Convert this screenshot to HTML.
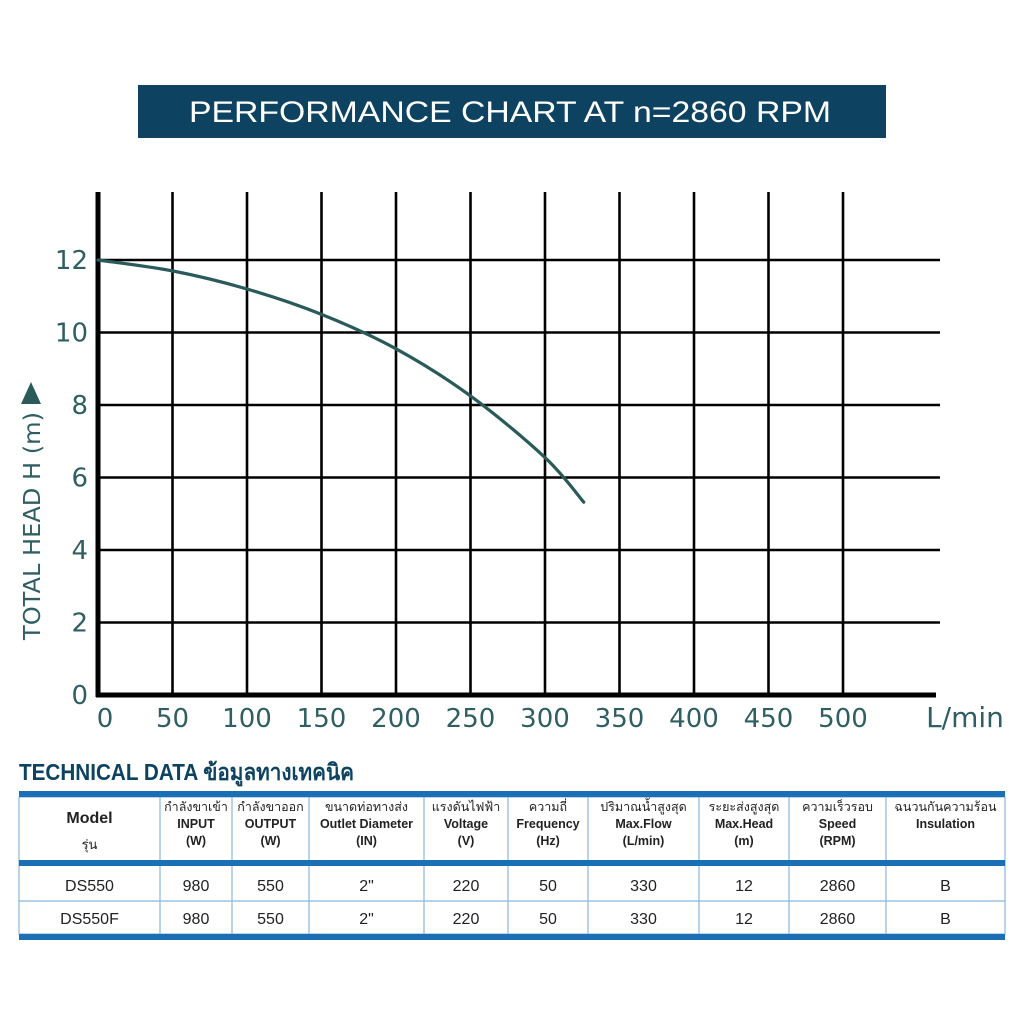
<!DOCTYPE html>
<html><head><meta charset="utf-8"><style>
html,body{margin:0;padding:0;background:#fff;width:1024px;height:1024px;overflow:hidden}
svg{display:block}
.ax{font-family:"DejaVu Sans","Liberation Sans",sans-serif;fill:#2f5f63}
.tb{font-family:"Liberation Sans Narrow","Liberation Sans",sans-serif;fill:#222}
</style></head><body>
<svg id="chart" width="1024" height="1024" viewBox="0 0 1024 1024">
<rect x="138" y="85" width="748" height="53" fill="#0d4360"/>
<text x="510" y="122" text-anchor="middle" font-family="Liberation Sans, sans-serif" font-size="30" fill="#fff" textLength="642" lengthAdjust="spacingAndGlyphs">PERFORMANCE CHART AT  n=2860 RPM</text>
<g id="grid"></g>
<g id="ylabels"></g>
<g id="xlabels"></g>
<text class="ax" x="965" y="727" font-size="28" text-anchor="middle">L/min</text>
<g transform="translate(40,640) rotate(-90)">
<text class="ax" x="0" y="0" font-size="23" textLength="228" lengthAdjust="spacingAndGlyphs">TOTAL HEAD H (m)</text>
<path d="M236,-18 L258,-8 L236,2 Z" fill="#2a5a5a" transform="translate(0,-1)"/>
</g>
<path id="curve" fill="none" stroke="#2a5a5a" stroke-width="3.2" stroke-linecap="round"/>

<text x="19" y="780" font-family="Liberation Sans Narrow, Liberation Sans, sans-serif" font-weight="bold" font-size="23" fill="#0d4360" textLength="335" lengthAdjust="spacingAndGlyphs">TECHNICAL DATA ข้อมูลทางเทคนิค</text>
<g id="table"></g>
</svg>
<script>
const flows = [0, 50, 100, 150, 200, 250, 300, 326];
const heads = [12, 11.7, 11.2, 10.5, 9.55, 8.25, 6.55, 5.32];
const xTicks = [0, 50, 100, 150, 200, 250, 300, 350, 400, 450, 500];
const yTicks = [0, 2, 4, 6, 8, 10, 12];
const headers = [
 ["กำลังขาเข้า","INPUT","(W)"],["กำลังขาออก","OUTPUT","(W)"],["ขนาดท่อทางส่ง","Outlet Diameter","(IN)"],
 ["แรงดันไฟฟ้า","Voltage","(V)"],["ความถี่","Frequency","(Hz)"],["ปริมาณน้ำสูงสุด","Max.Flow","(L/min)"],
 ["ระยะส่งสูงสุด","Max.Head","(m)"],["ความเร็วรอบ","Speed","(RPM)"],["ฉนวนกันความร้อน","Insulation",""]];
const rows = [["DS550","980","550","2\"","220","50","330","12","2860","B"],
              ["DS550F","980","550","2\"","220","50","330","12","2860","B"]];
const NS="http://www.w3.org/2000/svg";
const X=v=>98+v*(745/500), Y=v=>695-v*(435/12);
function mk(tag,at,parent){const e=document.createElementNS(NS,tag);for(const k in at)e.setAttribute(k,at[k]);parent.appendChild(e);return e;}
const grid=document.getElementById('grid');
yTicks.forEach(t=>{if(t===0)return;const l=mk('line',{x1:98,x2:940,y1:Y(t),y2:Y(t),stroke:'#000','stroke-width':2.6},grid);

});
xTicks.forEach(t=>{if(t===0)return;const l=mk('line',{x1:X(t),x2:X(t),y1:192,y2:695,stroke:'#000','stroke-width':2.6},grid);

});
const ya=mk('line',{x1:98,x2:98,y1:192,y2:697,stroke:'#000','stroke-width':5},grid);


const xa=mk('line',{x1:96,x2:936,y1:695,y2:695,stroke:'#000','stroke-width':5},grid);


const yl=document.getElementById('ylabels');
yTicks.forEach(t=>{const e=mk('text',{class:'ax',x:88,y:Y(t)+9,'font-size':26,'text-anchor':'end'},yl);e.textContent=t;

});
const xl=document.getElementById('xlabels');
xTicks.forEach(t=>{const e=mk('text',{class:'ax',x:X(t)-(t===0?-7:0),y:727,'font-size':26,'text-anchor':'middle'},xl);e.textContent=t;

});
const pts=flows.map((f,i)=>[X(f),Y(heads[i])]);
let d='M'+pts[0][0]+','+pts[0][1];
for(let i=0;i<pts.length-1;i++){const p0=pts[i-1]||pts[i],p1=pts[i],p2=pts[i+1],p3=pts[i+2]||p2;
d+=` C${p1[0]+(p2[0]-p0[0])/6},${p1[1]+(p2[1]-p0[1])/6} ${p2[0]-(p3[0]-p1[0])/6},${p2[1]-(p3[1]-p1[1])/6} ${p2[0]},${p2[1]}`;}
document.getElementById('curve').setAttribute('d',d);
const tb=document.getElementById('table');
const cols=[19,160,232,309,424,508,588,699,789,886,1005];
mk('rect',{x:19,y:797,width:986,height:137,fill:'#fff',stroke:'#8ab8dc','stroke-width':1.2},tb);
cols.slice(1,-1).forEach(c=>mk('line',{x1:c,x2:c,y1:797,y2:934,stroke:'#8ab8dc','stroke-width':1.2},tb));
mk('line',{x1:19,x2:1005,y1:901,y2:901,stroke:'#8ab8dc','stroke-width':1.2},tb);
[[791],[860],[934]].forEach(([y])=>mk('rect',{x:19,y:y,width:986,height:6,fill:'#1a6fb5'},tb));
const cx=i=>(cols[i]+cols[i+1])/2;
let m=mk('text',{class:'tb',x:cx(0),y:823,'font-size':16,'font-weight':'bold','text-anchor':'middle'},tb);m.textContent='Model';
m=mk('text',{class:'tb',x:cx(0),y:849,'font-size':13,'text-anchor':'middle'},tb);m.textContent='รุ่น';
headers.forEach((h,i)=>{h.forEach((s,j)=>{if(!s)return;const e=mk('text',{class:'tb',x:cx(i+1),y:811+j*17,'font-size':12.5,'font-weight':j?'bold':'normal','text-anchor':'middle'},tb);e.textContent=s;

});});
rows.forEach((r,ri)=>r.forEach((s,i)=>{const e=mk('text',{class:'tb',x:cx(i),y:891+ri*33,'font-size':16,'text-anchor':'middle'},tb);e.textContent=s;

}));
</script>
</body></html>
